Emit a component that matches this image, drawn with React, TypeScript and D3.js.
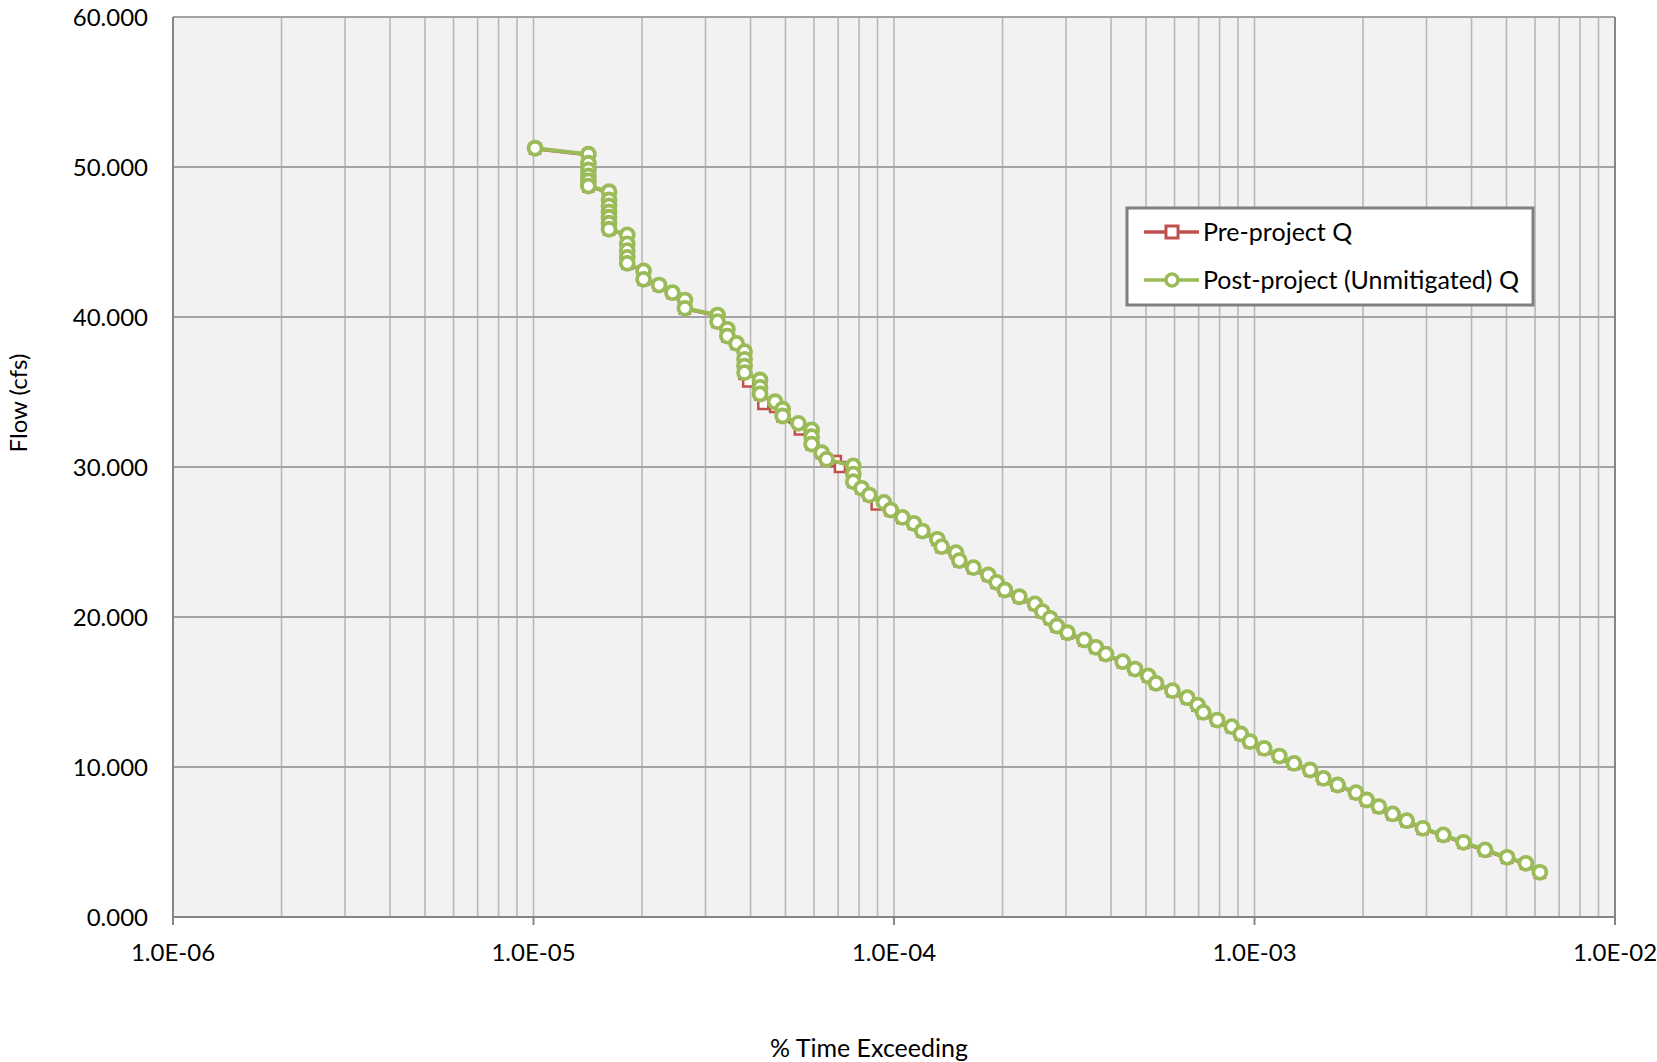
import { useEffect, useRef } from 'react';
import * as d3 from 'd3';

// Post-project (Unmitigated) Q
const postExceed = [
  1.01e-5,
  1.42e-5, 1.42e-5, 1.42e-5, 1.42e-5, 1.42e-5, 1.42e-5,
  1.62e-5, 1.62e-5, 1.62e-5, 1.62e-5, 1.62e-5, 1.62e-5, 1.62e-5,
  1.82e-5, 1.82e-5, 1.82e-5, 1.82e-5, 1.82e-5,
  2.02e-5, 2.02e-5, 2.23e-5, 2.43e-5, 2.63e-5, 2.63e-5,
  3.24e-5, 3.24e-5, 3.45e-5, 3.45e-5, 3.66e-5,
  3.85e-5, 3.85e-5, 3.85e-5, 3.85e-5,
  4.25e-5, 4.25e-5, 4.25e-5, 4.68e-5, 4.91e-5, 4.91e-5, 5.43e-5,
  5.91e-5, 5.91e-5, 5.91e-5, 6.3e-5, 6.5e-5,
  7.71e-5, 7.71e-5, 7.71e-5, 8.13e-5, 8.54e-5, 9.38e-5, 9.79e-5,
  1.055e-4, 1.136e-4, 1.198e-4, 1.319e-4, 1.356e-4, 1.486e-4, 1.518e-4,
  1.66e-4, 1.826e-4, 1.927e-4, 2.03e-4, 2.227e-4, 2.46e-4, 2.58e-4,
  2.71e-4, 2.83e-4, 3.03e-4, 3.37e-4, 3.63e-4, 3.87e-4, 4.31e-4,
  4.66e-4, 5.07e-4, 5.33e-4, 5.92e-4, 6.51e-4, 6.95e-4, 7.21e-4,
  7.88e-4, 8.65e-4, 9.16e-4, 9.72e-4, 1.064e-3, 1.172e-3, 1.287e-3,
  1.426e-3, 1.553e-3, 1.7e-3, 1.912e-3, 2.047e-3, 2.214e-3, 2.416e-3,
  2.643e-3, 2.93e-3, 3.34e-3, 3.8e-3, 4.36e-3, 5.02e-3, 5.66e-3, 6.19e-3,
];
const postFlow = [
  51.25,
  50.85, 50.25, 49.8, 49.4, 49.07, 48.73,
  48.35, 47.8, 47.4, 47.0, 46.65, 46.25, 45.85,
  45.47, 44.87, 44.42, 43.98, 43.58,
  43.07, 42.51, 42.13, 41.62, 41.13, 40.58,
  40.13, 39.69, 39.18, 38.73, 38.24,
  37.69, 37.18, 36.73, 36.29,
  35.8, 35.31, 34.87, 34.35, 33.85, 33.4, 32.91,
  32.47, 32.02, 31.53, 30.95, 30.51,
  30.07, 29.53, 29.02, 28.58, 28.13, 27.64, 27.13,
  26.64, 26.24, 25.73, 25.18, 24.69, 24.29, 23.76,
  23.29, 22.8, 22.31, 21.8, 21.35, 20.87, 20.36,
  19.91, 19.4, 18.95, 18.47, 17.98, 17.53, 17.02,
  16.53, 16.07, 15.58, 15.09, 14.62, 14.13, 13.64,
  13.13, 12.69, 12.2, 11.69, 11.24, 10.73, 10.24,
  9.8, 9.24, 8.8, 8.29, 7.8, 7.36, 6.87,
  6.42, 5.91, 5.47, 4.98, 4.47, 3.98, 3.58, 2.98,
];

// Pre-project Q
const preExceed = [
  1.01e-5,
  1.42e-5, 1.42e-5, 1.42e-5, 1.42e-5, 1.42e-5, 1.42e-5,
  1.62e-5, 1.62e-5, 1.62e-5, 1.62e-5, 1.62e-5, 1.62e-5, 1.62e-5,
  1.82e-5, 1.82e-5, 1.82e-5, 1.82e-5, 1.82e-5,
  2.02e-5, 2.02e-5, 2.23e-5, 2.43e-5, 2.63e-5, 2.63e-5,
  3.24e-5, 3.24e-5, 3.45e-5, 3.45e-5, 3.66e-5,
  3.85e-5, 3.85e-5, 3.85e-5, 3.85e-5, 3.94e-5,
  4.25e-5, 4.25e-5, 4.34e-5, 4.68e-5, 4.91e-5, 4.91e-5, 5.48e-5,
  5.91e-5, 5.91e-5, 6.3e-5, 6.5e-5, 6.9e-5, 7.08e-5,
  7.71e-5, 7.71e-5, 8.13e-5, 8.54e-5, 8.95e-5, 9.79e-5,
  1.055e-4, 1.136e-4, 1.198e-4, 1.319e-4, 1.356e-4, 1.486e-4, 1.518e-4,
  1.66e-4, 1.826e-4, 1.927e-4, 2.03e-4, 2.227e-4, 2.46e-4, 2.58e-4,
  2.71e-4, 2.83e-4, 3.03e-4, 3.37e-4, 3.63e-4, 3.87e-4, 4.31e-4,
  4.66e-4, 5.07e-4, 5.33e-4, 5.92e-4, 6.51e-4, 6.95e-4, 7.21e-4,
  7.88e-4, 8.65e-4, 9.16e-4, 9.72e-4, 1.064e-3, 1.172e-3, 1.287e-3,
  1.426e-3, 1.553e-3, 1.7e-3, 1.912e-3, 2.047e-3, 2.214e-3, 2.416e-3,
  2.643e-3, 2.93e-3, 3.34e-3, 3.8e-3, 4.36e-3, 5.02e-3, 5.66e-3, 6.19e-3,
];
const preFlow = [
  51.22,
  50.82, 50.22, 49.77, 49.37, 49.04, 48.7,
  48.32, 47.77, 47.37, 46.97, 46.62, 46.22, 45.82,
  45.44, 44.84, 44.39, 43.95, 43.55,
  43.04, 42.48, 42.1, 41.59, 41.1, 40.55,
  40.1, 39.66, 39.15, 38.7, 38.2,
  37.66, 37.15, 36.7, 36.2, 35.7,
  35.28, 34.84, 34.2, 34.0, 33.8, 33.35, 32.5,
  32.0, 31.5, 30.92, 30.48, 30.4, 30.0,
  29.5, 29.0, 28.55, 28.1, 27.5, 27.1,
  26.6, 26.2, 25.7, 25.14, 24.65, 24.25, 23.72,
  23.25, 22.76, 22.27, 21.76, 21.31, 20.83, 20.32,
  19.87, 19.36, 18.91, 18.43, 17.94, 17.49, 16.98,
  16.49, 16.03, 15.54, 15.05, 14.58, 14.09, 13.6,
  13.09, 12.65, 12.16, 11.65, 11.2, 10.69, 10.2,
  9.76, 9.2, 8.76, 8.25, 7.76, 7.32, 6.83,
  6.38, 5.87, 5.43, 4.94, 4.43, 3.94, 3.54, 2.94,
];

const xDecades = [1e-6, 1e-5, 1e-4, 1e-3, 1e-2];
const yTicks = [0, 10, 20, 30, 40, 50, 60];
const seriesNames = ['Pre-project Q', 'Post-project (Unmitigated) Q'];

const RED = '#c0504d';
const GREEN = '#9bbb59';
const FONT = 'Lato, "Noto Sans", sans-serif';

const formatExp = (v: number): string => {
  const [m, e] = v.toExponential(1).toUpperCase().split('E');
  const n = parseInt(e);
  const sign = n < 0 ? '-' : '+';
  return `${m}E${sign}${String(Math.abs(n)).padStart(2, '0')}`;
};

const App = () => {
  const chartRef = useRef<SVGSVGElement>(null);

  useEffect(() => {
    if (!chartRef.current) return;
    d3.select(chartRef.current).selectAll('*').remove();
    const width = 1657;
    const height = 1062;
    const margin = { top: 17, right: 42, bottom: 145, left: 173 };
    const svg = d3.select(chartRef.current)
      .attr('width', width)
      .attr('height', height);

    const x = d3.scaleLog()
      .domain([1e-6, 1e-2])
      .range([margin.left, width - margin.right]);
    const y = d3.scaleLinear()
      .domain([0, 60])
      .range([height - margin.bottom, margin.top]);

    // plot background
    svg.append('rect')
      .attr('x', x(1e-6))
      .attr('y', y(60))
      .attr('width', x(1e-2) - x(1e-6))
      .attr('height', y(0) - y(60))
      .attr('fill', '#f2f2f2');

    // vertical grid lines (log minor + decades)
    svg.append('g')
      .selectAll('line')
      .data(x.ticks())
      .enter()
      .append('line')
      .attr('x1', d => x(d))
      .attr('x2', d => x(d))
      .attr('y1', y(60))
      .attr('y2', y(0))
      .attr('stroke', '#b8b8b8')
      .attr('stroke-width', 1.6);

    // horizontal grid lines
    svg.append('g')
      .selectAll('line')
      .data(yTicks)
      .enter()
      .append('line')
      .attr('x1', x(1e-6))
      .attr('x2', x(1e-2))
      .attr('y1', d => y(d))
      .attr('y2', d => y(d))
      .attr('stroke', '#a3a3a3')
      .attr('stroke-width', 1.8);

    // axes lines
    svg.append('line')
      .attr('x1', x(1e-6)).attr('x2', x(1e-6))
      .attr('y1', y(60)).attr('y2', y(0))
      .attr('stroke', '#868686').attr('stroke-width', 2);
    svg.append('line')
      .attr('x1', x(1e-2)).attr('x2', x(1e-2))
      .attr('y1', y(60)).attr('y2', y(0) + 8)
      .attr('stroke', '#868686').attr('stroke-width', 2);
    svg.append('line')
      .attr('x1', x(1e-6)).attr('x2', x(1e-2))
      .attr('y1', y(0)).attr('y2', y(0))
      .attr('stroke', '#868686').attr('stroke-width', 2);

    // x ticks + labels
    const xAxis = svg.append('g');
    xAxis.selectAll('line')
      .data(xDecades)
      .enter()
      .append('line')
      .attr('x1', d => x(d)).attr('x2', d => x(d))
      .attr('y1', y(0)).attr('y2', y(0) + 8)
      .attr('stroke', '#868686').attr('stroke-width', 2);
    xAxis.selectAll('text')
      .data(xDecades)
      .enter()
      .append('text')
      .attr('x', d => x(d))
      .attr('y', y(0) + 44)
      .attr('text-anchor', 'middle')
      .style('font-family', FONT)
      .style('font-size', '24px')
      .attr('fill', '#000')
      .text(d => formatExp(d));

    // y labels
    svg.append('g')
      .selectAll('text')
      .data(yTicks)
      .enter()
      .append('text')
      .attr('x', x(1e-6) - 25)
      .attr('y', d => y(d) + 9)
      .attr('text-anchor', 'end')
      .style('font-family', FONT)
      .style('font-size', '24px')
      .attr('fill', '#000')
      .text(d => d.toFixed(3));

    // axis titles
    svg.append('text')
      .attr('x', 869)
      .attr('y', 1057)
      .attr('text-anchor', 'middle')
      .style('font-family', FONT)
      .style('font-size', '25px')
      .text('% Time Exceeding');
    svg.append('text')
      .attr('transform', 'translate(27, 403) rotate(-90)')
      .attr('text-anchor', 'middle')
      .style('font-family', FONT)
      .style('font-size', '24px')
      .text('Flow (cfs)');

    const pre = preExceed.map((d, i) => ({ x: d, y: preFlow[i] }));
    const post = postExceed.map((d, i) => ({ x: d, y: postFlow[i] }));
    const line = d3.line<{ x: number; y: number }>()
      .x(d => x(d.x))
      .y(d => y(d.y));

    // pre-project series
    svg.append('path')
      .datum(pre)
      .attr('d', line)
      .attr('fill', 'none')
      .attr('stroke', RED)
      .attr('stroke-width', 3.5)
      .attr('stroke-linejoin', 'round');
    svg.append('g')
      .selectAll('rect')
      .data(pre)
      .enter()
      .append('rect')
      .attr('x', d => x(d.x) - 5)
      .attr('y', d => y(d.y) - 5)
      .attr('width', 10)
      .attr('height', 10)
      .attr('fill', '#fff')
      .attr('stroke', RED)
      .attr('stroke-width', 2.5);

    // post-project series
    svg.append('path')
      .datum(post)
      .attr('d', line)
      .attr('fill', 'none')
      .attr('stroke', GREEN)
      .attr('stroke-width', 4)
      .attr('stroke-linejoin', 'round');
    svg.append('g')
      .selectAll('circle')
      .data(post)
      .enter()
      .append('circle')
      .attr('cx', d => x(d.x))
      .attr('cy', d => y(d.y))
      .attr('r', 6.5)
      .attr('fill', '#fff')
      .attr('stroke', GREEN)
      .attr('stroke-width', 3.8);

    // legend
    const legend = svg.append('g');
    legend.append('rect')
      .attr('x', 1127)
      .attr('y', 208)
      .attr('width', 406)
      .attr('height', 97)
      .attr('fill', '#fff')
      .attr('stroke', '#808080')
      .attr('stroke-width', 3);
    const rows = [232, 280];
    seriesNames.forEach((name, i) => {
      const ry = rows[i];
      const color = i === 0 ? RED : GREEN;
      legend.append('line')
        .attr('x1', 1144).attr('x2', 1199)
        .attr('y1', ry).attr('y2', ry)
        .attr('stroke', color).attr('stroke-width', 3.5);
      if (i === 0) {
        legend.append('rect')
          .attr('x', 1166).attr('y', ry - 6)
          .attr('width', 12).attr('height', 12)
          .attr('fill', '#fff').attr('stroke', color).attr('stroke-width', 3);
      } else {
        legend.append('circle')
          .attr('cx', 1172).attr('cy', ry).attr('r', 6)
          .attr('fill', '#fff').attr('stroke', color).attr('stroke-width', 3.5);
      }
      legend.append('text')
        .attr('x', 1203)
        .attr('y', ry + 9)
        .style('font-family', FONT)
        .style('font-size', '25px')
        .text(name);
    });
  }, []);

  return (
    <div style={{ position: 'fixed', left: 0, top: 0, background: '#fff' }}>
      <svg ref={chartRef} style={{ display: 'block' }} />
    </div>
  );
};

export default App;
